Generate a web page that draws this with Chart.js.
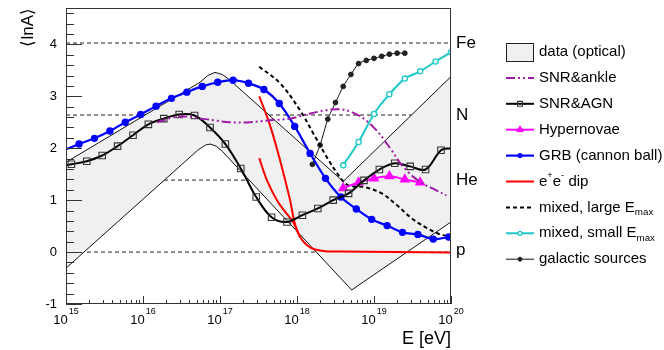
<!DOCTYPE html>
<html>
<head>
<meta charset="utf-8">
<title>lnA vs energy</title>
<script src="https://cdn.jsdelivr.net/npm/chart.js@4.4.1/dist/chart.umd.min.js"></script>
<style>
  html, body { margin: 0; padding: 0; background: #fff; }
  canvas { display: block; }
</style>
</head>
<body>
<canvas id="lnaChart" width="664" height="350"></canvas>
<script>
// energies are log10(E / eV), values are <lnA>
const xTickExponents = [15, 16, 17, 18, 19, 20];
const yTickValues = [-1, 0, 1, 2, 3, 4];

const refNames = ['Fe', 'N', 'He', 'p'];
const refMassNumbers = [56, 14, 4, 1];

const bandUpperLogE = [15.0, 16.74, 16.84, 16.935, 17.03, 17.13, 18.60, 20.0];
const bandUpperLnA  = [1.73, 3.27, 3.40, 3.46, 3.42, 3.31, 1.36, 3.38];
const bandLowerLogE = [15.0, 16.71, 16.81, 16.87, 16.95, 17.03, 18.71, 20.0];
const bandLowerLnA  = [-0.31, 1.96, 2.06, 2.08, 2.04, 1.94, -0.73, 0.58];

const ankleLogE = [16.18, 16.47, 16.81, 17.13, 17.39, 17.65, 17.91, 18.17, 18.52, 18.75, 18.99, 19.21, 19.38, 19.60, 19.81, 19.94];
const ankleLnA  = [2.50, 2.61, 2.56, 2.50, 2.50, 2.54, 2.57, 2.67, 2.75, 2.67, 2.41, 2.00, 1.64, 1.35, 1.19, 1.09];

const agnLogE = [15.0, 15.07, 15.27, 15.47, 15.67, 15.87, 16.07, 16.27, 16.47, 16.67, 16.87, 17.07, 17.27, 17.47,
                 17.67, 17.87, 18.07, 18.27, 18.47, 18.67, 18.87, 19.07, 19.27, 19.47, 19.67, 19.87, 20.0];
const agnLnA  = [1.67, 1.69, 1.75, 1.86, 2.04, 2.25, 2.46, 2.57, 2.65, 2.63, 2.40, 2.08, 1.61, 1.06,
                 0.67, 0.58, 0.71, 0.84, 1.00, 1.13, 1.38, 1.59, 1.71, 1.65, 1.59, 1.96, 2.00];

const hyperLogE = [18.6, 18.8, 19.0, 19.2, 19.4, 19.6];
const hyperLnA  = [1.23, 1.34, 1.42, 1.46, 1.40, 1.34];

const grbLogE = [15.0, 15.17, 15.37, 15.57, 15.77, 15.97, 16.17, 16.37, 16.57, 16.77, 16.97, 17.17, 17.37,
                 17.57, 17.77, 17.97, 18.17, 18.37, 18.57, 18.77, 18.97, 19.17, 19.37, 19.57, 19.77, 19.97];
const grbLnA  = [1.98, 2.08, 2.19, 2.33, 2.50, 2.65, 2.81, 2.96, 3.08, 3.19, 3.27, 3.31, 3.25,
                 3.13, 2.86, 2.42, 1.90, 1.42, 1.06, 0.83, 0.63, 0.51, 0.38, 0.34, 0.25, 0.29];

const dipUpperLogE = [17.51, 17.65, 17.78, 17.91, 17.97, 18.04, 18.17, 18.34, 18.56, 20.0];
const dipUpperLnA  = [3.00, 2.44, 1.77, 1.00, 0.56, 0.29, 0.09, 0.02, 0.01, -0.01];
const dipLowerLogE = [17.51, 17.61, 17.74, 17.87, 17.95, 18.04];
const dipLowerLnA  = [1.81, 1.38, 1.00, 0.73, 0.58, 0.29];

const mixLargeLogE = [17.51, 17.78, 18.04, 18.21, 18.39, 18.56, 18.66, 18.88, 19.10, 19.30, 19.49, 19.69, 19.86, 20.0];
const mixLargeLnA  = [3.57, 3.25, 2.73, 2.29, 1.82, 1.44, 1.29, 1.25, 1.13, 0.90, 0.65, 0.46, 0.34, 0.30];

const mixSmallLogE = [18.6, 18.8, 19.0, 19.2, 19.4, 19.6, 19.8, 20.0];
const mixSmallLnA  = [1.67, 2.12, 2.66, 3.04, 3.34, 3.48, 3.67, 3.85];

const galacticLogE = [18.2, 18.3, 18.4, 18.5, 18.6, 18.7, 18.8, 18.9, 19.0, 19.1, 19.2, 19.3, 19.4];
const galacticLnA  = [1.69, 2.06, 2.56, 2.88, 3.19, 3.42, 3.63, 3.69, 3.73, 3.77, 3.81, 3.83, 3.83];

const legendLabels = ['data (optical)', 'SNR&ankle', 'SNR&AGN', 'Hypernovae', 'GRB (cannon ball)',
                      'e^{+}e^{-} dip', 'mixed, large E_{max}', 'mixed, small E_{max}', 'galactic sources'];

const FONT = "'Liberation Sans', Arial, Helvetica, sans-serif";
const pts = (logE, lnA) => logE.map((e, i) => ({ x: Math.pow(10, e), y: lnA[i] }));

const bandPolygon = pts(bandUpperLogE, bandUpperLnA).concat(pts(bandLowerLogE, bandLowerLnA).reverse());
bandPolygon.push(bandPolygon[0]);

const refSets = refMassNumbers.map(A => ({
  data: [{ x: 1e15, y: Math.log(A) }, { x: 1e20, y: Math.log(A) }],
  borderColor: '#222', borderWidth: 1, borderDash: [4, 3], pointRadius: 0, order: 3
}));

const bandSet = {
  data: bandPolygon, fill: 'shape', backgroundColor: '#f0f0f0',
  borderColor: '#111', borderWidth: 1, pointRadius: 0, tension: 0, order: 2
};

const ankleSet = {
  data: pts(ankleLogE, ankleLnA), borderColor: '#a01aa8', borderWidth: 2,
  borderDash: [9, 3, 2, 3, 2, 3], pointRadius: 0, tension: 0.4
};
// the first/last entries only carry the line to the frame, no marker there
const agnSet = {
  data: pts(agnLogE, agnLnA), borderColor: '#000', borderWidth: 2, tension: 0.35,
  pointStyle: 'rect', pointRadius: (c) => (c.dataIndex === 0 || c.dataIndex === agnLogE.length - 1) ? 0 : 4.6,
  pointBorderColor: '#333', pointBackgroundColor: 'rgba(0,0,0,0)', pointBorderWidth: 1.1
};
const hyperSet = {
  data: pts(hyperLogE, hyperLnA), borderColor: '#ff00ff', borderWidth: 2, tension: 0.35,
  pointStyle: 'triangle', pointRadius: 4.2, pointBackgroundColor: '#ff00ff', pointBorderColor: '#ff00ff'
};
const grbSet = {
  data: pts(grbLogE, grbLnA), borderColor: '#0000ff', borderWidth: 2.2, tension: 0.35,
  pointStyle: 'circle', pointRadius: (c) => c.dataIndex === 0 ? 0 : 2.6,
  pointBackgroundColor: '#0000ff', pointBorderColor: '#0000ff'
};
const dipUpperSet = {
  data: pts(dipUpperLogE, dipUpperLnA), borderColor: '#ff0000', borderWidth: 2, pointRadius: 0, tension: 0.35
};
const dipLowerSet = {
  data: pts(dipLowerLogE, dipLowerLnA), borderColor: '#ff0000', borderWidth: 2, pointRadius: 0, tension: 0.35
};
const mixLargeSet = {
  data: pts(mixLargeLogE, mixLargeLnA), borderColor: '#000', borderWidth: 2,
  borderDash: [4, 3], pointRadius: 0, tension: 0.35
};
const mixSmallSet = {
  data: pts(mixSmallLogE, mixSmallLnA), borderColor: '#1cc8c8', borderWidth: 2, tension: 0.3,
  pointStyle: 'circle', pointRadius: 2.6, pointBackgroundColor: '#fff', pointBorderColor: '#1cc8c8', pointBorderWidth: 1.3
};
const galacticSet = {
  data: pts(galacticLogE, galacticLnA), borderColor: '#111', borderWidth: 1, tension: 0.2,
  pointStyle: 'circle', pointRadius: 2.4, pointBackgroundColor: '#222', pointBorderColor: '#222'
};

// legend rows: dataset and its legend marker radius
const legendStyles = [
  [bandSet, 'box'], [ankleSet, 0], [agnSet, 3.4], [hyperSet, 3.8], [grbSet, 2.2],
  [dipUpperSet, 0], [mixLargeSet, 0], [mixSmallSet, 2], [galacticSet, 2]
];

function drawRich(ctx, str, x, y, size) {
  const parts = str.match(/\^\{[^}]*\}|_\{[^}]*\}|[^^_]+/g);
  let cx = x;
  for (const p of parts) {
    let t = p, fs = size, dy = 0;
    if (p[0] === '^') { t = p.slice(2, -1); fs = size * 0.62; dy = -size * 0.38; }
    else if (p[0] === '_') { t = p.slice(2, -1); fs = size * 0.65; dy = size * 0.33; }
    ctx.font = fs + 'px ' + FONT;
    ctx.fillText(t, cx, y + dy);
    cx += ctx.measureText(t).width;
  }
}

const decorations = {
  id: 'decorations',
  afterDatasetsDraw(chart) {
    const { ctx, chartArea: a, scales: { x, y } } = chart;
    ctx.save();
    ctx.strokeStyle = '#333';
    ctx.lineWidth = 1;
    ctx.setLineDash([]);
    ctx.strokeRect(a.left + 0.5, a.top + 0.5, a.right - a.left - 1, a.bottom - a.top - 1);

    // ticks point inward, ROOT style
    ctx.beginPath();
    for (let k = -5; k <= 23; k++) {
      const py = Math.round(y.getPixelForValue(k / 5)) + 0.5;
      const len = k % 5 === 0 ? 16 : 8;
      ctx.moveTo(a.left, py); ctx.lineTo(a.left + len, py);
    }
    for (let d = 15; d <= 20; d++) {
      for (let m = 1; m <= 9; m++) {
        if (d === 20 && m > 1) break;
        const px = Math.round(x.getPixelForValue(m * Math.pow(10, d))) + 0.5;
        const len = m === 1 ? 8 : 4;
        ctx.moveTo(px, a.bottom); ctx.lineTo(px, a.bottom - len);
      }
    }
    ctx.stroke();

    ctx.fillStyle = '#000';
    ctx.textBaseline = 'middle';
    ctx.textAlign = 'right';
    ctx.font = '13px ' + FONT;
    yTickValues.forEach(v => ctx.fillText(String(v), a.left - 9, y.getPixelForValue(v)));

    ctx.textBaseline = 'alphabetic';
    ctx.textAlign = 'left';
    xTickExponents.forEach(e => {
      ctx.font = '13px ' + FONT;
      const w1 = ctx.measureText('10').width;
      ctx.font = '9px ' + FONT;
      const w2 = ctx.measureText(String(e)).width;
      const left = x.getPixelForValue(Math.pow(10, e)) - (w1 + w2 + 1) / 2;
      ctx.font = '13px ' + FONT;
      ctx.fillText('10', left, 324);
      ctx.font = '9px ' + FONT;
      ctx.fillText(String(e), left + w1 + 1, 314);
    });

    ctx.font = '18px ' + FONT;
    ctx.textAlign = 'right';
    ctx.fillText('E [eV]', a.right, 344);
    ctx.save();
    ctx.translate(28, a.top);
    ctx.rotate(-Math.PI / 2);
    ctx.font = '17px ' + FONT;
    ctx.textAlign = 'right';
    ctx.textBaseline = 'middle';
    ctx.fillText('\u27E8lnA\u27E9', 0, 0);
    ctx.restore();

    ctx.font = '17px ' + FONT;
    ctx.textAlign = 'left';
    ctx.textBaseline = 'middle';
    refNames.forEach((n, i) => {
      const py = y.getPixelForValue(Math.log(refMassNumbers[i]));
      ctx.fillText(n, a.right + 5, n === 'p' ? py - 2 : py);
    });

    legendStyles.forEach(([ds, mk], i) => {
      const cy = 52 + 25.9 * i;
      const x0 = 506, x1 = 534;
      ctx.save();
      if (mk === 'box') {
        ctx.fillStyle = ds.backgroundColor;
        ctx.fillRect(x0, cy - 9, x1 - x0, 18);
        ctx.strokeStyle = '#222';
        ctx.lineWidth = 1;
        ctx.strokeRect(x0 + 0.5, cy - 9 + 0.5, x1 - x0 - 1, 18);
      } else {
        ctx.strokeStyle = ds.borderColor;
        ctx.lineWidth = ds.borderWidth;
        ctx.setLineDash(ds.borderDash || []);
        ctx.beginPath();
        ctx.moveTo(x0, cy); ctx.lineTo(x1, cy);
        ctx.stroke();
        if (mk > 0) {
          ctx.setLineDash([]);
          ctx.fillStyle = ds.pointBackgroundColor;
          ctx.strokeStyle = ds.pointBorderColor;
          ctx.lineWidth = ds.pointBorderWidth || 1;
          Chart.helpers.drawPoint(ctx, { pointStyle: ds.pointStyle, radius: mk, rotation: 0, borderWidth: ctx.lineWidth }, (x0 + x1) / 2, cy);
        }
      }
      ctx.restore();
      ctx.fillStyle = '#000';
      ctx.textAlign = 'left';
      ctx.textBaseline = 'middle';
      drawRich(ctx, legendLabels[i], 539, cy, 15);
    });
    ctx.restore();
  }
};

new Chart(document.getElementById('lnaChart'), {
  type: 'line',
  data: {
    datasets: [
      ankleSet, agnSet, hyperSet, grbSet, dipUpperSet, dipLowerSet, mixLargeSet, mixSmallSet, galacticSet,
      bandSet, ...refSets
    ]
  },
  options: {
    responsive: false,
    animation: false,
    devicePixelRatio: 1,
    layout: { padding: { left: 66, right: 213, top: 8, bottom: 46 } },
    plugins: { legend: { display: false }, tooltip: { enabled: false } },
    scales: {
      x: { type: 'logarithmic', min: 1e15, max: 1e20, display: false },
      y: { type: 'linear', min: -1, max: 4.7, display: false }
    }
  },
  plugins: [decorations]
});
</script>
</body>
</html>
